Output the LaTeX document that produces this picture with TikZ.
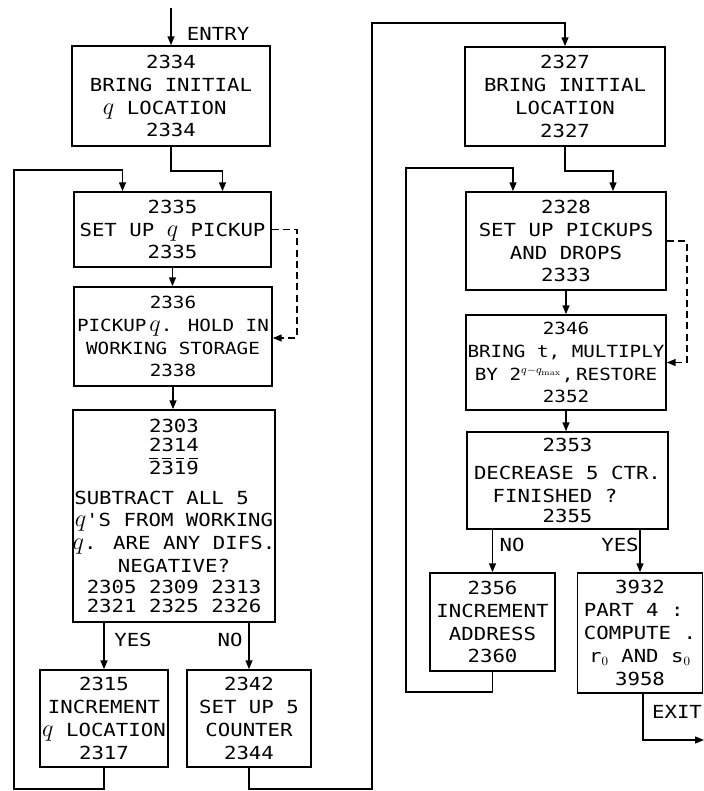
\documentclass[tikz,border=0pt]{standalone}
\usepackage{fontspec}
\usepackage{tikz}
\usetikzlibrary{calc}
\usetikzlibrary{positioning}
\usetikzlibrary{arrows.meta}
\newfontfamily\leroy[FakeStretch=1.15]{DejaVu Sans Mono}
\newcommand{\pu}{0.025cm}
\newcommand{\dashseg}{\rule{6pt}{0.8pt}\hspace{3.5pt}}
\newcommand{\dashrow}{\rlap{\raisebox{11pt}{\dashseg\dashseg\dashseg\rule{6pt}{0.8pt}}}}
\newcommand{\qq}{{\fontsize{17}{16}\selectfont$q$}}
\tikzset{
    % boxes of the flow chart
    flowbox/.style={
        draw,
        line width=1.1pt,
        align=center,
        inner sep=0pt,
        font=\leroy\fontsize{12.8}{16.3}\selectfont
    },
    % a box whose lines run long
    tightbox/.style={
        flowbox,
        font=\leroy\fontsize{11.9}{16.3}\selectfont
    },
    % solid arrows between boxes
    flowarrow/.style={
        line width=1.1pt,
        black,
        -{Triangle[length=2.2mm, width=1.7mm]}
    },
    dasharrow/.style={
        flowarrow,
        dash pattern=on 5pt off 3pt
    },
    flowlabel/.style={
        font=\leroy\fontsize{12.8}{16}\selectfont
    }
}

\begin{document}
\begin{tikzpicture}[x=\pu,y=-\pu]
    \useasboundingbox (0,0) rectangle (704,791);
    % ===================== left column =====================
    \node[flowbox,minimum width=198*\pu,minimum height=100*\pu] (b1) at (171,96)
        {2334\\ BRING INITIAL\\ \qq{} LOCATION\phantom{X}\\ 2334};
    \node[flowbox,minimum width=197*\pu,minimum height=75*\pu] (b2) at (172.5,229.5)
        {2335\\ SET UP \qq{} PICKUP\\ 2335};
    \node[tightbox,minimum width=198*\pu,minimum height=99*\pu] (b3) at (173,336.5)
        {2336\\ PICKUP\,\qq. HOLD IN\\ WORKING STORAGE\\ 2338};
    \node[flowbox,minimum width=198*\pu,minimum height=212*\pu] (b4) at (174,516)
        {2303\\[-2.9pt] 2314\\ \dashrow 2319\\[4.9pt]
         SUBTRACT ALL 5\phantom{XX}\\ \qq'S FROM WORKING\\ \qq. ARE ANY DIFS.\\ NEGATIVE?\\[-1.4pt]
         2305 2309 2313\\[-2.9pt] 2321 2325 2326};
    \node[flowbox,minimum width=128*\pu,minimum height=97*\pu] (b5) at (104,718.5)
        {2315\\ INCREMENT\\ \qq{} LOCATION\\ 2317};
    \node[flowbox,minimum width=124*\pu,minimum height=97*\pu] (b6) at (249,718.5)
        {2342\\ SET UP 5\\ COUNTER\\ 2344};

    \coordinate (entry) at (171,8);
    \draw[flowarrow] (entry) -- (b1.north);
    \node[flowlabel,anchor=west] (entrytxt) at (182,34) {ENTRY};
    \draw[flowarrow] (b1.south) -- ++(0,24) -| ($(b2.north)+(50,0)$);
    \draw[flowarrow] (b2.south) -- (b2.south |- b3.north);
    \draw[dasharrow] (b2.east) -- ++(25,0) |- ($(b3.east)+(0,1.5)$);
    \draw[flowarrow] (b3.south) -- (b3.south |- b4.north);
    \draw[flowarrow] (b5.north |- b4.south) -- (b5.north);
    \draw[flowarrow] (b6.north |- b4.south) -- (b6.north);
    \node[flowlabel] (yes1) at (133,640) {YES};
    \node[flowlabel] (no1) at (230,640) {NO};
    % back to the top of the left column
    \draw[flowarrow] (b5.south) |- (14,789) -- (14,170) -| ($(b2.north)+(-50,0)$);

    % ===================== right column =====================
    \node[flowbox,minimum width=200*\pu,minimum height=99*\pu] (b7) at (565,96.5)
        {2327\\ BRING INITIAL\\ LOCATION\\ 2327};
    \node[flowbox,minimum width=200*\pu,minimum height=98*\pu] (b8) at (566,241)
        {2328\\ SET UP PICKUPS\\ AND DROPS\\ 2333};
    \node[tightbox,minimum width=200*\pu,minimum height=95*\pu] (b9) at (566,362.5)
        {2346\\ BRING t, MULTIPLY\\ BY 2$^{q-q_{\mathrm{max}}}$,\,RESTORE\\ 2352};
    \node[flowbox,minimum width=201*\pu,minimum height=97*\pu] (b10) at (567.5,480.5)
        {2353\\[4pt] DECREASE 5 CTR.\\ FINISHED ?\phantom{XX}\\[-2pt] 2355};
    \node[flowbox,minimum width=125*\pu,minimum height=98*\pu] (b11) at (492.5,622)
        {2356\\ INCREMENT\\ ADDRESS\\ 2360};
    \node[flowbox,minimum width=125*\pu,minimum height=120*\pu] (b12) at (640,633)
        {3932\\ PART 4 :\phantom{X}\\ COMPUTE .\\ r$_0$ AND s$_0$\\ 3958};

    \draw[flowarrow] (b6.south) |- (372,789) -- (372,23) -| (b7.north);
    \draw[flowarrow] (b7.south) -- ++(0,24) -| ($(b8.north)+(47,0)$);
    \draw[flowarrow] (b8.south) -- (b8.south |- b9.north);
    \draw[dasharrow] (b8.east) -- ++(20,0) |- (b9.east);
    \draw[flowarrow] (b9.south) -- (b9.south |- b10.north);
    \draw[flowarrow] (b11.north |- b10.south) -- (b11.north);
    \draw[flowarrow] (b12.north |- b10.south) -- (b12.north);
    \node[flowlabel] (no2) at (512,545) {NO};
    \node[flowlabel] (yes2) at (620,545) {YES};
    % inner loop
    \draw[flowarrow] (b11.south) |- (406,692) -- (406,168) -| ($(b8.north)+(-53,0)$);
    %exit
    \coordinate (exit) at (704,740);
    \draw[flowarrow] ($(b12.south)+(3,0)$) |- (exit);
    \node[flowlabel] (exittxt) at (677,712) {EXIT};
\end{tikzpicture}
\end{document}
